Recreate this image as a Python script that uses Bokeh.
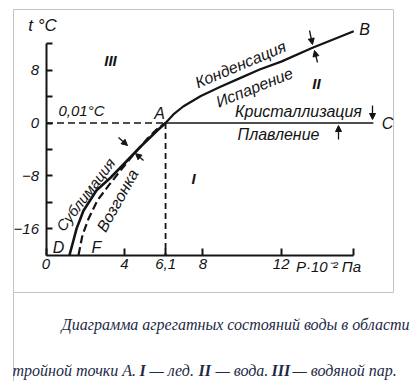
from bokeh.plotting import figure
from bokeh.models import Range1d, LinearAxis, FixedTicker, Arrow, NormalHead, ColumnDataSource
from bokeh.core.properties import value
from bokeh.embed import file_html
from bokeh.resources import INLINE
import math

# ---------------- data (pressure P·10^-2 Pa, temperature °C) ----------------
# evaporation / condensation curve A-B
ab_p = [6.1, 6.5, 7.0, 7.9, 8.9, 9.9, 10.9, 12.0, 13.6, 15.7]
ab_t = [0.01, 1.3, 2.5, 4.1, 5.5, 6.8, 8.1, 9.3, 11.4, 13.9]
# sublimation curve A-D (solid)
ad_p = [1.2, 1.4, 1.56, 1.91, 2.58, 3.29, 4.11, 4.82, 5.69, 6.1]
ad_t = [-20.0, -17.8, -16.0, -13.3, -10.2, -8.3, -5.8, -3.6, -1.1, 0.01]
# sublimation (vozgonka) curve A-F (dashed)
af_p = [1.66, 1.86, 2.17, 2.63, 3.19, 3.80, 4.46, 5.18, 5.74, 6.1]
af_t = [-20.0, -17.0, -14.5, -11.7, -9.5, -7.2, -4.8, -2.35, -0.7, 0.01]
# melting / crystallization line A-C
ac_p = [6.1, 16.7]
ac_t = [0.01, 0.01]
# triple point A
triple_p = 6.1
triple_t = 0.01
p_min, t_min, t_max, p_axis_end = 0, -20, 12, 15.7

x_ticks = [0, 4, 6.1, 8, 12, 15.7]
x_tick_labels = {6.1: "6,1", 15.7: ""}
y_ticks = [-16, -8, 0, 8]
y_minor_ticks = [-12, -4, 4, 12]

# ---------------- layout helpers (picture pixel -> data) ----------------
def X(px):
    return (px - 45.5) / 19.6

def Y(py):
    return (122.5 - py) / 6.6

W, H = 412, 381
INK = "#141414"
FONT_NAME = "Liberation Sans"
FONT = value(FONT_NAME)
SERIF = value("Liberation Serif")
CAP = "#1d2a47"

p = figure(width=W, height=H,
           x_range=Range1d(X(0), X(W)), y_range=Range1d(Y(H), Y(0)),
           x_axis_type=None, y_axis_type=None,
           toolbar_location=None, output_backend="svg",
           min_border=0, outline_line_color=None)
p.background_fill_color = "white"
p.border_fill_color = "white"

# gray frame of the picture
frame_col = "#c4c4c4"
p.line([X(13), X(393), X(393), X(13)], [Y(292), Y(292), Y(9), Y(9)], line_color=frame_col, line_width=1)
p.line([X(13), X(13)], [Y(9), Y(H)], line_color=frame_col, line_width=1)

# axes
xax = LinearAxis(fixed_location=t_min, bounds=(p_min, p_axis_end),
                 ticker=FixedTicker(ticks=x_ticks),
                 major_label_overrides=x_tick_labels,
                 major_tick_in=7, major_tick_out=0,
                 minor_tick_in=0, minor_tick_out=0,
                 axis_line_width=2, axis_line_color=INK,
                 major_tick_line_width=2, major_tick_line_color=INK,
                 major_label_text_font=FONT_NAME, major_label_text_font_style="italic",
                 major_label_text_font_size="15px", major_label_text_color=INK,
                 major_label_standoff=4)
p.add_layout(xax, "below")

yax = LinearAxis(fixed_location=p_min, bounds=(t_min, t_max),
                 ticker=FixedTicker(ticks=y_ticks, minor_ticks=y_minor_ticks),
                 major_tick_in=6, major_tick_out=0,
                 minor_tick_in=6, minor_tick_out=0,
                 axis_line_width=2, axis_line_color=INK,
                 major_tick_line_width=2, major_tick_line_color=INK,
                 minor_tick_line_width=2, minor_tick_line_color=INK,
                 major_label_text_font=FONT_NAME, major_label_text_font_style="italic",
                 major_label_text_font_size="15px", major_label_text_color=INK,
                 major_label_standoff=7)
p.add_layout(yax, "left")

# dashed helper lines to triple point
p.line([p_min, triple_p], [triple_t, triple_t], line_color=INK, line_width=1.6, line_dash="7 4")
p.line([triple_p, triple_p], [triple_t, t_min], line_color=INK, line_width=1.8, line_dash="6 4")

# phase boundaries
p.line(ab_p, ab_t, line_color=INK, line_width=2.2, line_join="round")
p.line(ac_p, ac_t, line_color=INK, line_width=1.6)
p.line(ad_p, ad_t, line_color=INK, line_width=2.6, line_join="round")
p.line(af_p, af_t, line_color=INK, line_width=2.2, line_dash="8 4", line_join="round")

# small arrows at the boundaries
arr = ColumnDataSource(dict(
    xs=[X(309), X(317), X(372), X(338), X(118), X(143)],
    ys=[Y(30), Y(62), Y(105), Y(139), Y(137), Y(160)],
    xe=[X(312), X(314), X(372), X(338), X(127), X(135)],
    ye=[Y(44), Y(50), Y(119), Y(125), Y(145), Y(153)],
))
p.add_layout(Arrow(source=arr, x_start="xs", y_start="ys", x_end="xe", y_end="ye",
                   line_color=INK, line_width=1.3,
                   end=NormalHead(size=6, fill_color=INK, line_color=INK, line_width=1)))

def label(px, py, txt, size="16px", angle=0.0, align="center", style="italic", font=FONT, color=INK):
    p.text(x=[X(px)], y=[Y(py)], text=[txt], angle=angle, text_font=font,
           text_font_style=style, text_font_size=size, text_color=color,
           text_align=align, text_baseline="middle")

label(42, 25, "t °C", size="17px")
label(81, 110, "0,01°C", size="15px")
label(159, 113, "A", size="16px")
label(364, 29, "B", size="16px")
label(387, 123, "C", size="16px")
label(58, 247, "D", size="16px")
label(96, 247, "F", size="16px")
label(110, 60, "III", size="15px", style="bold italic")
label(316, 83, "II", size="15px", style="bold italic")
label(193, 178, "I", size="15px", style="bold italic")
label(328, 266, "P·10⁻² Па", size="15px")

label(240, 64, "Конденсация", size="16px", angle=math.radians(23))
label(254, 87, "Испарение", size="16px", angle=math.radians(22))
label(298, 111, "Кристаллизация", size="16px")
label(278, 134, "Плавление", size="16px")
label(85, 194, "Сублимация", size="15px", angle=math.radians(53))
label(117, 200, "Возгонка", size="16px", angle=math.radians(61))

# caption
label(61, 324, "Диаграмма агрегатных состояний воды в области", size="16px",
      align="left", font=SERIF, color=CAP)
cap2 = [(12, "тройной точки А.", "italic"), (139, "I", "bold italic"),
        (149, "— лед.", "italic"), (198, "II", "bold italic"),
        (215, "— вода.", "italic"), (271, "III", "bold italic"),
        (292, "— водяной пар.", "italic")]
for px, txt, st in cap2:
    label(px, 370, txt, size="16px", align="left", font=SERIF, color=CAP, style=st)

open("out.html", "w").write(file_html(p, INLINE))
